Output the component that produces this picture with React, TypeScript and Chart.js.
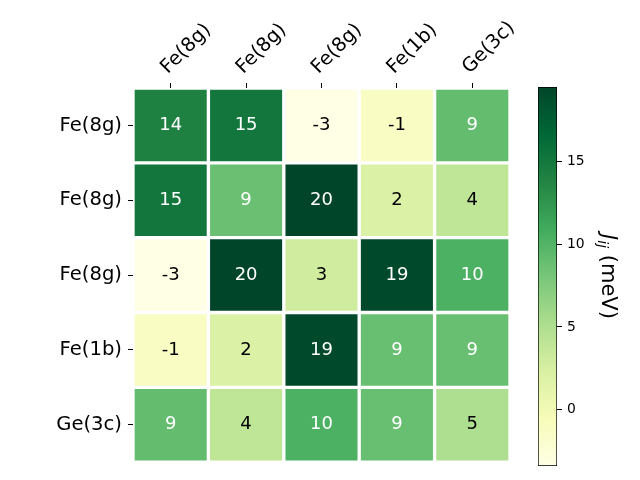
import React, { useEffect, useRef } from "react";
import { Chart, registerables } from "chart.js";

Chart.register(...registerables);

const FONT = '"DejaVu Sans", sans-serif';

const colLabels = ["Fe(8g)", "Fe(8g)", "Fe(8g)", "Fe(1b)", "Ge(3c)"];
const rowLabels = ["Fe(8g)", "Fe(8g)", "Fe(8g)", "Fe(1b)", "Ge(3c)"];

const row0 = [14.2, 15.1, -3.4, -1.2, 9.1];
const row1 = [15.1, 8.8, 19.5, 2.1, 4.0];
const row2 = [-3.4, 19.5, 2.9, 19.2, 10.3];
const row3 = [-1.2, 2.1, 19.2, 8.9, 8.9];
const row4 = [9.1, 4.0, 10.3, 8.9, 5.1];
const jValues = [row0, row1, row2, row3, row4];

const vmin = -3.4;
const vmax = 19.5;
const cbarTicks = [0, 5, 10, 15];

// matplotlib YlGn colormap
const ylgn = [
  [255, 255, 229],
  [247, 252, 185],
  [217, 240, 163],
  [173, 221, 142],
  [120, 198, 121],
  [65, 171, 93],
  [35, 132, 67],
  [0, 104, 55],
  [0, 69, 41],
];

function cmap(t: number): string {
  const tt = Math.max(0, Math.min(1, t)) * (ylgn.length - 1);
  const i = Math.min(Math.floor(tt), ylgn.length - 2);
  const f = tt - i;
  const a = ylgn[i];
  const b = ylgn[i + 1];
  const c = a.map((v, k) => Math.round(v + (b[k] - v) * f));
  return `rgb(${c[0]},${c[1]},${c[2]})`;
}
const norm = (v: number) => (v - vmin) / (vmax - vmin);

const cellTextPlugin = {
  id: "cellText",
  afterDatasetsDraw(chart: any) {
    const ctx = chart.ctx;
    ctx.save();
    ctx.font = `18px ${FONT}`;
    ctx.textAlign = "center";
    ctx.textBaseline = "middle";
    chart.data.datasets.forEach((_ds: any, r: number) => {
      const meta = chart.getDatasetMeta(r);
      meta.data.forEach((el: any, c: number) => {
        const p = el.getProps(["x", "y", "base"], true);
        const v = jValues[r][c];
        ctx.fillStyle = norm(v) > 0.45 ? "#ffffff" : "#000000";
        ctx.fillText(String(Math.round(v)), p.x, (p.y + p.base) / 2);
      });
    });
    ctx.restore();
  },
};

const cbarTitlePlugin = {
  id: "cbarTitle",
  afterDraw(chart: any) {
    const ctx = chart.ctx;
    const area = chart.chartArea;
    const cx = 607;
    const cy = (area.top + area.bottom) / 2;
    ctx.save();
    ctx.translate(cx, cy);
    ctx.rotate(Math.PI / 2);
    ctx.fillStyle = "#000";
    ctx.textBaseline = "middle";
    ctx.textAlign = "left";
    const fBig = `italic 21px ${FONT}`;
    const fSub = `italic 14px ${FONT}`;
    const fNorm = `21px ${FONT}`;
    ctx.font = fBig;
    const wJ = ctx.measureText("J").width;
    ctx.font = fSub;
    const wSub = ctx.measureText("ij").width;
    ctx.font = fNorm;
    const wRest = ctx.measureText(" (meV)").width;
    let x = -(wJ + wSub + wRest) / 2;
    ctx.font = fBig;
    ctx.fillText("J", x, 0);
    x += wJ;
    ctx.font = fSub;
    ctx.fillText("ij", x, 5);
    x += wSub;
    ctx.font = fNorm;
    ctx.fillText(" (meV)", x, 0);
    ctx.restore();
  },
};

export default function App() {
  const heatRef = useRef<HTMLCanvasElement | null>(null);
  const cbarRef = useRef<HTMLCanvasElement | null>(null);

  useEffect(() => {
    const heat = new Chart(heatRef.current as HTMLCanvasElement, {
      type: "bar",
      data: {
        labels: colLabels,
        datasets: jValues.map((row, r) => ({
          data: row.map(() => [r, r + 1]),
          backgroundColor: row.map((v) => cmap(norm(v))),
          borderColor: "#ffffff",
          borderWidth: 2,
          borderSkipped: false,
          grouped: false,
          barPercentage: 1,
          categoryPercentage: 1,
        })) as any,
      },
      options: {
        animation: false,
        responsive: false,
        maintainAspectRatio: false,
        layout: { padding: { left: 0, top: 0, right: 130, bottom: 15 } },
        plugins: { legend: { display: false }, tooltip: { enabled: false } },
        scales: {
          x: {
            position: "top",
            grid: {
              offset: false,
              drawOnChartArea: false,
              tickLength: 5,
              tickColor: "#000",
              color: "#000",
            },
            border: { display: false },
            ticks: {
              color: "#000",
              font: { family: FONT, size: 19.4 },
              maxRotation: 45,
              minRotation: 45,
              padding: 4,
              labelOffset: 10,
            },
            afterFit: (s: any) => {
              s.height = 88;
            },
          },
          y: {
            type: "linear",
            min: 0,
            max: 5,
            reverse: true,
            afterBuildTicks: (s: any) => {
              s.ticks = rowLabels.map((_, i) => ({ value: i + 0.5 }));
            },
            ticks: {
              color: "#000",
              font: { family: FONT, size: 19.6 },
              padding: 6,
              callback: (_v: any, i: number) => rowLabels[i],
            },
            grid: {
              drawOnChartArea: false,
              tickLength: 5,
              tickColor: "#000",
            },
            border: { display: false },
            afterFit: (s: any) => {
              s.width = 133;
            },
          },
        },
      } as any,
      plugins: [cellTextPlugin],
    });

    const cbar = new Chart(cbarRef.current as HTMLCanvasElement, {
      type: "bar",
      data: {
        labels: [""],
        datasets: [
          {
            data: [[vmin, vmax]],
            backgroundColor: (c: any) => {
              const chart = c.chart;
              const ys = chart.scales.y;
              if (!chart.chartArea || !ys) return "transparent";
              const g = chart.ctx.createLinearGradient(
                0,
                ys.getPixelForValue(vmin),
                0,
                ys.getPixelForValue(vmax)
              );
              ylgn.forEach((_, i) => {
                const t = i / (ylgn.length - 1);
                g.addColorStop(t, cmap(t));
              });
              return g;
            },
            borderColor: "#000",
            borderWidth: 1,
            borderSkipped: false,
            barPercentage: 1,
            categoryPercentage: 1,
          },
        ] as any,
      },
      options: {
        animation: false,
        responsive: false,
        maintainAspectRatio: false,
        layout: { padding: { left: 538, top: 87, bottom: 14, right: 0 } },
        plugins: { legend: { display: false }, tooltip: { enabled: false } },
        scales: {
          x: { display: false },
          y: {
            position: "right",
            min: vmin,
            max: vmax,
            afterBuildTicks: (s: any) => {
              s.ticks = cbarTicks.map((v) => ({ value: v }));
            },
            ticks: {
              color: "#000",
              font: { family: FONT, size: 13.9 },
              padding: 5,
            },
            grid: {
              drawOnChartArea: false,
              tickLength: 5,
              tickColor: "#000",
            },
            border: { display: false },
            afterFit: (s: any) => {
              s.width = 83;
            },
          },
        },
      } as any,
      plugins: [cbarTitlePlugin],
    });

    return () => {
      heat.destroy();
      cbar.destroy();
    };
  }, []);

  return (
    <div
      style={{
        position: "fixed",
        left: 0,
        top: 0,
        width: 640,
        height: 480,
        background: "#fff",
      }}
    >
      <canvas
        ref={heatRef}
        width={640}
        height={480}
        style={{ position: "absolute", left: 0, top: 0 }}
      />
      <canvas
        ref={cbarRef}
        width={640}
        height={480}
        style={{ position: "absolute", left: 0, top: 0, pointerEvents: "none" }}
      />
    </div>
  );
}
